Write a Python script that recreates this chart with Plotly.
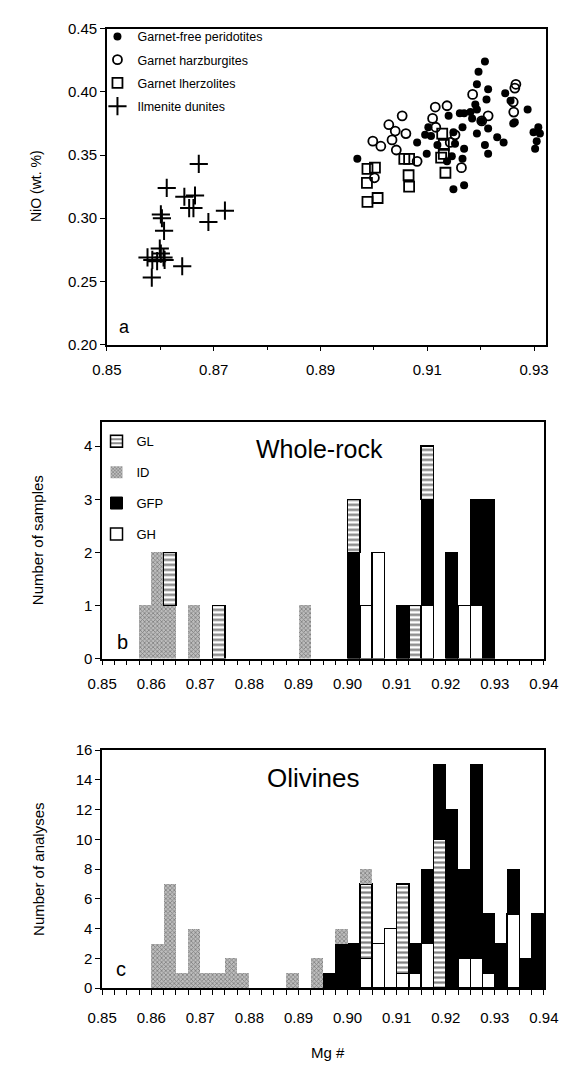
import plotly.graph_objects as go

W, H = 575, 1073

# ---------------- Panel a : NiO vs Mg# ----------------
gfp_mg = [0.9208, 0.9196, 0.9193, 0.9214, 0.9211, 0.9246, 0.9256, 0.9288, 0.9190, 0.9140,
          0.9161, 0.9169, 0.9181, 0.9193, 0.9184, 0.9202, 0.9214, 0.9166, 0.9193, 0.9264,
          0.9261, 0.9231, 0.9243, 0.9208, 0.9214, 0.9102, 0.9096, 0.9081, 0.9107, 0.9099,
          0.9149, 0.9152, 0.9169, 0.9166, 0.9146, 0.9137, 0.9149, 0.9169, 0.8969, 0.9299,
          0.9308, 0.9311, 0.9305, 0.9302, 0.9119]
gfp_nio = [0.424, 0.416, 0.406, 0.402, 0.394, 0.399, 0.393, 0.386, 0.390, 0.381,
           0.383, 0.383, 0.384, 0.386, 0.379, 0.377, 0.371, 0.372, 0.367, 0.376,
           0.375, 0.364, 0.360, 0.358, 0.351, 0.372, 0.366, 0.360, 0.365, 0.351,
           0.368, 0.359, 0.355, 0.347, 0.349, 0.345, 0.323, 0.326, 0.347, 0.368,
           0.372, 0.367, 0.361, 0.355, 0.358]

gh_mg = [0.9185, 0.9214, 0.9202, 0.9264, 0.9266, 0.9261, 0.9262, 0.9115, 0.9110, 0.9116,
         0.9053, 0.9028, 0.9040, 0.9060, 0.9034, 0.8998, 0.9013, 0.9042, 0.9081, 0.9001,
         0.9143, 0.9152, 0.9164, 0.9137]
gh_nio = [0.398, 0.381, 0.377, 0.403, 0.406, 0.392, 0.384, 0.388, 0.379, 0.372,
          0.381, 0.374, 0.369, 0.367, 0.362, 0.361, 0.357, 0.354, 0.345, 0.332,
          0.360, 0.366, 0.340, 0.389]

gl_mg = [0.8988, 0.9002, 0.8987, 0.8988, 0.9007, 0.9057, 0.9066, 0.9065, 0.9066, 0.9128,
         0.9131, 0.9131, 0.9134, 0.9126]
gl_nio = [0.339, 0.340, 0.328, 0.313, 0.316, 0.347, 0.347, 0.334, 0.325, 0.367,
          0.358, 0.351, 0.336, 0.348]

id_mg = [0.8672, 0.8612, 0.8645, 0.8665, 0.8654, 0.8662, 0.8721, 0.8601, 0.8603, 0.8690,
         0.8607, 0.8599, 0.8576, 0.8585, 0.8606, 0.8601, 0.8641, 0.8584, 0.8594, 0.8608]
id_nio = [0.343, 0.324, 0.317, 0.318, 0.308, 0.308, 0.306, 0.303, 0.300, 0.297,
          0.290, 0.276, 0.269, 0.267, 0.269, 0.272, 0.262, 0.253, 0.266, 0.267]

# ---------------- Panel b : whole-rock histogram (bin left edges, counts) ----------------
BIN = 0.0025
b_gl_x = [0.8625, 0.8725, 0.9000, 0.9125, 0.9150]
b_gl_n = [1, 1, 1, 1, 1]
b_id_x = [0.8575, 0.8600, 0.8625, 0.8675, 0.8900]
b_id_n = [1, 2, 1, 1, 1]
b_gfp_x = [0.9000, 0.9100, 0.9150, 0.9200, 0.9250, 0.9275]
b_gfp_n = [2, 1, 2, 2, 2, 3]
b_gh_x = [0.9025, 0.9050, 0.9150, 0.9225, 0.9250]
b_gh_n = [1, 2, 1, 1, 1]

# ---------------- Panel c : olivine histogram ----------------
c_id_x = [0.8600, 0.8625, 0.8650, 0.8675, 0.8700, 0.8725, 0.8750, 0.8775, 0.8875, 0.8925,
          0.8975, 0.9025]
c_id_n = [3, 7, 1, 4, 1, 1, 2, 1, 1, 2, 1, 1]
c_gfp_x = [0.8950, 0.8975, 0.9000, 0.9125, 0.9150, 0.9175, 0.9200, 0.9225, 0.9250, 0.9275,
           0.9300, 0.9325, 0.9350, 0.9375]
c_gfp_n = [1, 3, 3, 2, 5, 5, 12, 6, 13, 4, 3, 3, 2, 5]
c_gl_x = [0.9025, 0.9100, 0.9175]
c_gl_n = [5, 6, 10]
c_gh_x = [0.9025, 0.9050, 0.9075, 0.9100, 0.9125, 0.9150, 0.9225, 0.9250, 0.9275, 0.9325]
c_gh_n = [2, 3, 4, 1, 1, 3, 2, 2, 1, 5]

FONT = "Liberation Sans, Arial, sans-serif"

fig = go.Figure()

# scatter traces (panel a)
fig.add_trace(go.Scatter(x=gfp_mg, y=gfp_nio, mode="markers", name="Garnet-free peridotites",
                         marker=dict(symbol="circle", size=8, color="black"),
                         xaxis="x", yaxis="y", legend="legend", legendgroup="a1", legendrank=1))
fig.add_trace(go.Scatter(x=gh_mg, y=gh_nio, mode="markers", name="Garnet harzburgites",
                         marker=dict(symbol="circle-open", size=9, color="black", line=dict(width=1.8)),
                         xaxis="x", yaxis="y", legend="legend", legendgroup="a2", legendrank=2))
fig.add_trace(go.Scatter(x=gl_mg, y=gl_nio, mode="markers", name="Garnet lherzolites",
                         marker=dict(symbol="square-open", size=10, color="black", line=dict(width=1.8)),
                         xaxis="x", yaxis="y", legend="legend", legendgroup="a3", legendrank=3))
fig.add_trace(go.Scatter(x=id_mg, y=id_nio, mode="markers", name="Ilmenite dunites",
                         marker=dict(symbol="cross-thin-open", size=13, color="black", line=dict(width=2)),
                         xaxis="x", yaxis="y", legend="legend", legendgroup="a4", legendrank=4))

styles = {
    "GL": dict(color="white", line=dict(color="black", width=1.5),
               pattern=dict(shape="-", fgcolor="black", bgcolor="white", size=5, solidity=0.45)),
    "ID": dict(color="#b0b0b0", line=dict(color="#b0b0b0", width=0),
               pattern=dict(shape="x", fgcolor="#404040", bgcolor="#bdbdbd", size=3, solidity=0.45)),
    "GFP": dict(color="black", line=dict(color="black", width=1)),
    "GH": dict(color="white", line=dict(color="black", width=1.5)),
}
ranks = {"GL": 1, "ID": 2, "GFP": 3, "GH": 4}

def add_bars(name, xs, ns, xa, ya, show):
    fig.add_trace(go.Bar(x=xs, y=ns, width=BIN, offset=0, name=name, marker=styles[name],
                         xaxis=xa, yaxis=ya, showlegend=show, legend="legend2",
                         legendgroup="b" + name, legendrank=ranks[name]))

# panel b stacking order (bottom -> top): GH, ID, GFP, GL
add_bars("GH", b_gh_x, b_gh_n, "x2", "y2", True)
add_bars("ID", b_id_x, b_id_n, "x2", "y2", True)
add_bars("GFP", b_gfp_x, b_gfp_n, "x2", "y2", True)
add_bars("GL", b_gl_x, b_gl_n, "x2", "y2", True)
# panel c stacking order: GH, GL, GFP, ID
add_bars("GH", c_gh_x, c_gh_n, "x3", "y3", False)
add_bars("GL", c_gl_x, c_gl_n, "x3", "y3", False)
add_bars("GFP", c_gfp_x, c_gfp_n, "x3", "y3", False)
add_bars("ID", c_id_x, c_id_n, "x3", "y3", False)

def dx(p):
    return p / W

def dy(p):
    return 1 - p / H

axis_common = dict(showline=True, mirror=True, linecolor="black", linewidth=1.5, showgrid=False,
                   zeroline=False, ticks="outside", tickcolor="black", ticklen=5, tickwidth=1.2,
                   tickfont=dict(family=FONT, size=15, color="black"))

fig.update_layout(
    width=W, height=H, margin=dict(l=0, r=0, t=0, b=0),
    paper_bgcolor="white", plot_bgcolor="white", barmode="stack",
    font=dict(family=FONT, color="black"),
    xaxis=dict(domain=[dx(97), dx(560)], anchor="y", range=[0.85, 0.9322], tick0=0.85, dtick=0.02,
               tickformat=".2f", ticklabelstandoff=6,
               minor=dict(dtick=0.01, tick0=0.85, ticks="outside", ticklen=4, tickcolor="black"),
               **axis_common),
    yaxis=dict(domain=[dy(341), dy(20)], anchor="x", range=[0.20, 0.45], dtick=0.05, tickformat=".2f",
               **axis_common),
    xaxis2=dict(domain=[dx(92), dx(558)], anchor="y2", range=[0.85, 0.94], tick0=0.85, dtick=0.01,
                tickformat=".2f", ticklabelstandoff=6,
                minor=dict(dtick=0.0025, tick0=0.85, ticks="outside", ticklen=5, tickcolor="black"),
                **axis_common),
    yaxis2=dict(domain=[dy(660), dy(420)], anchor="x2", range=[0, 4.45], dtick=1, **axis_common),
    xaxis3=dict(domain=[dx(92), dx(558)], anchor="y3", range=[0.85, 0.94], tick0=0.85, dtick=0.01,
                tickformat=".2f", ticklabelstandoff=10,
                minor=dict(dtick=0.0025, tick0=0.85, ticks="outside", ticklen=5, tickcolor="black"),
                **axis_common),
    yaxis3=dict(domain=[dy(995), dy(753)], anchor="x3", range=[0, 16], dtick=2, **axis_common),
    legend=dict(x=dx(87), y=dy(13), xanchor="left", yanchor="top", bgcolor="rgba(0,0,0,0)",
                traceorder="grouped", tracegroupgap=4, itemwidth=30,
                font=dict(family=FONT, size=12.5, color="black")),
    legend2=dict(x=dx(86), y=dy(424), xanchor="left", yanchor="top", bgcolor="rgba(0,0,0,0)",
                 traceorder="grouped", tracegroupgap=11, itemwidth=30,
                 font=dict(family=FONT, size=13, color="black")),
)

ann = [
    dict(text="NiO (wt. %)", x=dx(22), y=dy(180), textangle=-90, font=dict(size=14)),
    dict(text="Number of samples", x=dx(24), y=dy(540), textangle=-90, font=dict(size=15)),
    dict(text="Number of analyses", x=dx(24), y=dy(874), textangle=-90, font=dict(size=15)),
    dict(text="Mg #", x=dx(330), y=dy(1060), font=dict(size=15)),
    dict(text="a", x=dx(116), y=dy(323), font=dict(size=18)),
    dict(text="b", x=dx(113), y=dy(643), font=dict(size=20)),
    dict(text="c", x=dx(112), y=dy(975), font=dict(size=20)),
    dict(text="Whole-rock", x=dx(321), y=dy(447), font=dict(size=25)),
    dict(text="Olivines", x=dx(314), y=dy(781), font=dict(size=26)),
]
for a in ann:
    a.update(xref="paper", yref="paper", showarrow=False, xanchor="center", yanchor="middle")
    a["font"] = dict(family=FONT, color="black", **a["font"])
fig.update_layout(annotations=ann)

fig.write_html("out.html")
